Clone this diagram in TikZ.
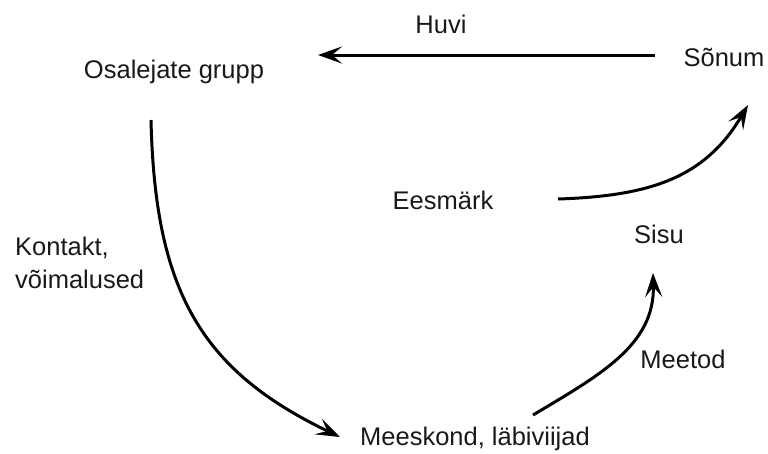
\documentclass[tikz,border=0pt]{standalone}
\usepackage{fontspec}
\setmainfont{Liberation Sans}
\usetikzlibrary{arrows.meta}
\begin{document}
\begin{tikzpicture}[x=1pt,y=-1pt,
  lbl/.style={inner sep=0pt,font=\fontsize{25.5}{33}\selectfont,text=black!90},
  conn/.style={line width=3pt,-{Stealth[length=24pt,width=17pt,inset=10pt]}}]
\useasboundingbox (0,0) rectangle (768,453);
\node[lbl,anchor=base] (huvi) at (441,33) {Huvi};
\node[lbl,anchor=base] (osal) at (174,78) {Osalejate grupp};
\node[lbl,anchor=base] (sonum) at (724,66) {Sõnum};
\node[lbl,anchor=base] (eesm) at (443,209) {Eesmärk};
\node[lbl,anchor=base] (sisu) at (659,243) {Sisu};
\node[lbl,anchor=base west] (kont) at (15,255) {Kontakt,};
\node[lbl,anchor=base west] (voim) at (15,288) {võimalused};
\node[lbl,anchor=base] (meet) at (683,368) {Meetod};
\node[lbl,anchor=base] (mees) at (475,445) {Meeskond, läbiviijad};
% connector end points
\coordinate (s1) at (655,55);
\coordinate (e1) at (318,55);
\coordinate (s2) at (151,120);
\coordinate (e2) at (340,437);
\coordinate (s3) at (558,199);
\coordinate (e3) at (748,105);
\coordinate (s4) at (533,415);
\coordinate (e4) at (653,273);
\draw[conn] (s1) -- (e1);
\draw[conn] (s2) .. controls (155,290) and (200,370) .. (e2);
\draw[conn] (s3) .. controls (650,196) and (705,178) .. (e3);
\draw[conn] (s4) .. controls (600,375) and (655,345) .. (e4);
\end{tikzpicture}
\end{document}
